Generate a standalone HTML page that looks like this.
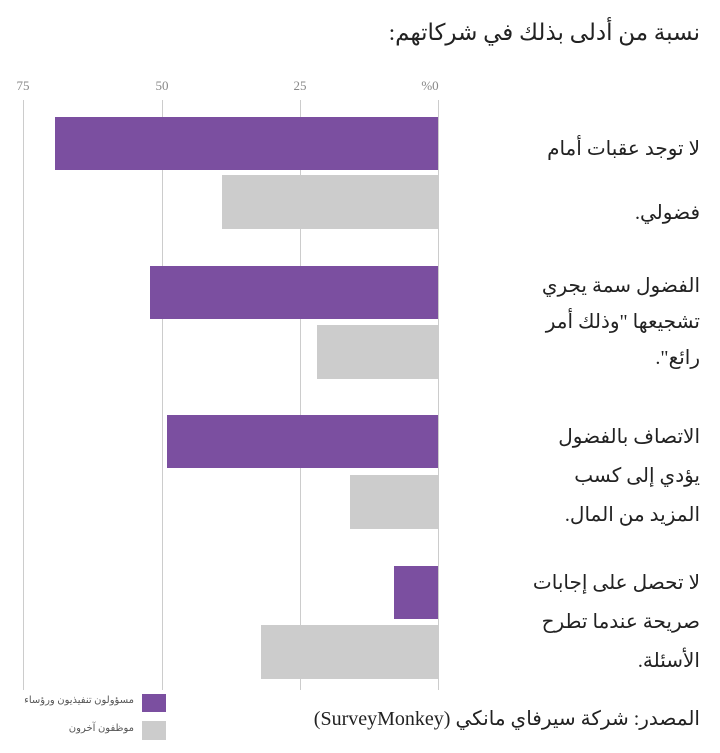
<!DOCTYPE html>
<html><head><meta charset="utf-8"><style>
body{margin:0;width:720px;height:753px;background:#fff;position:relative;overflow:hidden;font-family:"Liberation Serif","DejaVu Sans",serif;color:#222}
.a{position:absolute}
.g{position:absolute;top:100px;height:590px;width:1px;background:#ccc}
.t{position:absolute;top:78px;font-size:13px;color:#888;width:40px;text-align:center}
.p{position:absolute;background:#7b4fa0;right:282px;height:53px}
.q{position:absolute;background:#cccccc;right:282px;height:54px}
.l{position:absolute;right:20px;width:190px;direction:rtl;text-align:right;font-size:20px;line-height:36px;color:#222}
</style></head><body>
<div class="a" style="right:20px;top:20px;direction:rtl;font-size:23px;">نسبة من أدلى بذلك في شركاتهم:</div>
<div class="g" style="left:23px"></div><div class="g" style="left:162px"></div><div class="g" style="left:300px"></div><div class="g" style="left:438px"></div>
<div class="t" style="left:3px">75</div><div class="t" style="left:142px">50</div><div class="t" style="left:280px">25</div><div class="t" style="left:410px">%0</div>
<div class="p" style="top:117px;width:383px"></div><div class="q" style="top:175px;width:216px"></div>
<div class="p" style="top:266px;width:288px"></div><div class="q" style="top:325px;width:121px"></div>
<div class="p" style="top:415px;width:271px"></div><div class="q" style="top:475px;width:88px"></div>
<div class="p" style="top:566px;width:44px"></div><div class="q" style="top:625px;width:177px"></div>
<div class="l" style="top:117px;line-height:64px">لا توجد عقبات أمام<br>فضولي.</div>
<div class="l" style="top:268px">الفضول سمة يجري<br>تشجيعها "وذلك أمر<br>رائع".</div>
<div class="l" style="top:418px;line-height:39px">الاتصاف بالفضول<br>يؤدي إلى كسب<br>المزيد من المال.</div>
<div class="l" style="top:564px;line-height:39px">لا تحصل على إجابات<br>صريحة عندما تطرح<br>الأسئلة.</div>
<div class="a" style="left:142px;top:694px;width:24px;height:18px;background:#7b4fa0"></div>
<div class="a" style="left:142px;top:721px;width:24px;height:19px;background:#ccc"></div>
<div class="a" style="right:586px;top:695px;font-size:10px;color:#555;direction:rtl">مسؤولون تنفيذيون ورؤساء</div>
<div class="a" style="right:586px;top:723px;font-size:10px;color:#555;direction:rtl">موظفون آخرون</div>
<div class="a" style="right:20px;top:706px;font-size:20px;direction:rtl">المصدر: شركة سيرفاي مانكي (SurveyMonkey)</div>
</body></html>
